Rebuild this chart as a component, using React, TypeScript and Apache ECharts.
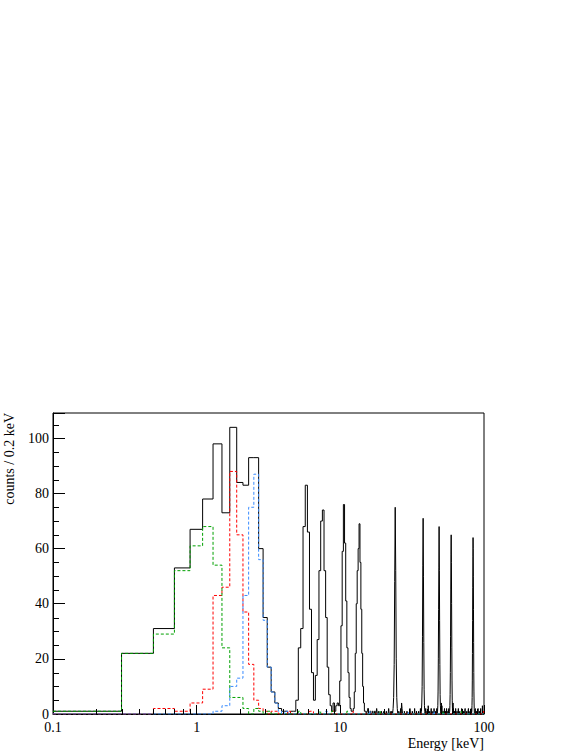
import React, { useEffect, useRef } from "react";
import * as echarts from "echarts";

// Histogram binning: 0.2 keV bins starting at 0.1 keV
const BIN_WIDTH = 0.2;
const N_BINS = 500;

// Total spectrum (black), dense part: bin centres 0.2, 0.4, ... 14.8 keV
const totalLow = [
  1, 22, 31, 53, 67, 78, 98, 73, 104, 84,
  83, 93, 93, 60, 35, 17, 8, 4, 2, 1,
  1, 0, 1, 1, 5, 24, 31, 68, 83, 66,
  38, 15, 5, 14, 27, 52, 70, 74, 52, 35,
  17, 7, 3, 1, 4, 1, 3, 4, 3, 12,
  32, 59, 76, 62, 41, 24, 15, 6, 2, 1,
  1, 2, 8, 22, 40, 52, 60, 69, 55, 38,
  22, 10, 4, 1,
];

// Total spectrum, high-energy lines: [bin centre keV, counts]
const peak24: [number, number][] = [
  [23.4, 2], [23.6, 6], [23.8, 18], [24.0, 48], [24.2, 75], [24.4, 52], [24.6, 20], [24.8, 6], [25.0, 2],
];
const peak38: [number, number][] = [
  [36.8, 1], [37.0, 4], [37.2, 10], [37.4, 28], [37.6, 54], [37.8, 71], [38.0, 50], [38.2, 26], [38.4, 9], [38.6, 3], [38.8, 1],
];
const peak49: [number, number][] = [
  [47.6, 1], [47.8, 3], [48.0, 8], [48.2, 20], [48.4, 38], [48.6, 53], [48.8, 68], [49.0, 52], [49.2, 34], [49.4, 18], [49.6, 7], [49.8, 3], [50.0, 1],
];
const peak59: [number, number][] = [
  [57.8, 1], [58.0, 3], [58.2, 7], [58.4, 15], [58.6, 28], [58.8, 45], [59.0, 58], [59.2, 65], [59.4, 55], [59.6, 40], [59.8, 24], [60.0, 12], [60.2, 5], [60.4, 2],
];
const peak84: [number, number][] = [
  [82.4, 1], [82.6, 3], [82.8, 6], [83.0, 12], [83.2, 22], [83.4, 34], [83.6, 46], [83.8, 57], [84.0, 64], [84.2, 60], [84.4, 50], [84.6, 38], [84.8, 26], [85.0, 15], [85.2, 8], [85.4, 4], [85.6, 2],
];
// Total spectrum, sparse background counts above 15 keV
const totalBackground: [number, number][] = [
  [15.0, 1], [15.4, 1], [15.6, 2], [16.2, 1], [16.8, 1], [17.4, 1], [18.0, 2], [18.6, 1], [19.4, 1], [20.2, 1],
  [21.0, 1], [21.8, 2], [22.6, 1], [23.0, 1], [25.6, 1], [26.4, 2], [26.8, 4], [27.0, 2], [28.0, 1], [29.2, 1],
  [30.6, 2], [31.8, 1], [33.0, 2], [34.0, 1], [35.2, 1], [36.2, 2], [39.4, 2], [40.2, 1], [41.0, 3], [42.0, 1],
  [43.0, 2], [44.2, 1], [45.0, 2], [46.2, 1], [47.0, 2], [50.6, 4], [51.0, 3], [52.0, 1], [53.2, 2], [54.0, 1],
  [55.0, 2], [56.2, 1], [57.0, 2], [61.0, 4], [61.4, 2], [62.4, 1], [63.6, 2], [65.0, 1], [66.4, 2], [68.0, 1],
  [70.0, 2], [72.0, 1], [74.0, 2], [76.0, 1], [78.0, 2], [80.0, 1], [81.6, 2], [87.0, 2], [89.0, 1], [91.0, 2],
  [93.0, 1], [95.0, 2], [97.6, 3], [99.0, 1],
];

// Component spectra (dashed): [bin centre keV, counts]
const redComp: [number, number][] = [
  [0.6, 2], [0.8, 1], [1.0, 4], [1.2, 9], [1.4, 43], [1.6, 46], [1.8, 88], [2.0, 65], [2.2, 37], [2.4, 18],
  [2.6, 5], [2.8, 2], [3.0, 1], [3.4, 1], [3.6, 1], [4.4, 1], [6.2, 1], [6.4, 1], [9.0, 1], [12.2, 1], [99.4, 1],
];
const greenComp: [number, number][] = [
  [0.2, 1], [0.4, 22], [0.6, 29], [0.8, 52], [1.0, 61], [1.2, 68], [1.4, 54], [1.6, 24], [1.8, 6], [2.0, 6],
  [2.2, 2], [2.6, 2], [2.8, 1], [3.2, 1], [5.2, 1], [7.2, 1], [8.8, 1], [11.2, 1], [19.0, 1], [52.0, 1], [70.0, 1],
];
const blueComp: [number, number][] = [
  [1.4, 1], [1.6, 3], [1.8, 10], [2.0, 13], [2.2, 43], [2.4, 75], [2.6, 87], [2.8, 56], [3.0, 34], [3.2, 17],
  [3.4, 8], [3.6, 4], [3.8, 1], [4.2, 1], [8.0, 1], [16.0, 1], [30.0, 1], [45.0, 1],
];

const xMajorLabels = [0.1, 1, 10, 100];
const xMinorTicks = [
  0.2, 0.3, 0.4, 0.5, 0.6, 0.7, 0.8, 0.9,
  2, 3, 4, 5, 6, 7, 8, 9,
  20, 30, 40, 50, 60, 70, 80, 90,
];
const yMinorTicks = [5, 10, 15, 25, 30, 35, 45, 50, 55, 65, 70, 75, 85, 90, 95, 105];

function buildCounts(dense: number[], sparse: [number, number][]): number[] {
  const c: number[] = new Array(N_BINS).fill(0);
  dense.forEach((v, i) => (c[i] = v));
  sparse.forEach(([e, v]) => {
    const k = Math.round(e / BIN_WIDTH) - 1;
    if (k >= 0 && k < N_BINS) c[k] = v;
  });
  return c;
}

function toStepPoints(counts: number[]): [number, number][] {
  const pts: [number, number][] = [];
  for (let k = 0; k < counts.length; k++) {
    pts.push([(1 + 2 * k) / 10, counts[k]]);
  }
  pts.push([(1 + 2 * counts.length) / 10, counts[counts.length - 1]]);
  return pts;
}

const FONT = "Liberation Serif";

export default function App() {
  const ref = useRef<HTMLDivElement>(null);
  useEffect(() => {
    if (!ref.current) return;
    const chart = echarts.init(ref.current, undefined, { renderer: "svg" });

    const total = buildCounts(totalLow, [
      ...peak24, ...peak38, ...peak49, ...peak59, ...peak84, ...totalBackground,
    ]);
    const red = buildCounts([], redComp);
    const green = buildCounts([], greenComp);
    const blue = buildCounts([], blueComp);

    const histSeries = (name: string, counts: number[], color: string, dashed: boolean) => ({
      name,
      type: "line",
      step: "end",
      data: toStepPoints(counts),
      showSymbol: false,
      symbol: "none",
      silent: true,
      lineStyle: { color, width: 1, type: dashed ? [3, 2] : "solid" },
    });

    chart.setOption({
      animation: false,
      grid: {
        left: 53, right: 97, top: 413, bottom: 38,
        show: true, borderColor: "#000", borderWidth: 1, backgroundColor: "transparent",
      },
      xAxis: {
        type: "log",
        logBase: 10,
        min: 0.1,
        max: 100,
        axisLine: { show: true, lineStyle: { color: "#000", width: 1 } },
        axisTick: { show: true, inside: true, length: 9, lineStyle: { color: "#000" } },
        splitLine: { show: false },
        axisLabel: {
          show: true,
          margin: 6,
          color: "#000",
          fontFamily: FONT,
          fontSize: 14,
          showMinLabel: true,
          showMaxLabel: true,
          formatter: (v: number) => {
            const r = Math.round(v * 10) / 10;
            return xMajorLabels.some((m) => Math.abs(m - r) < 1e-9) ? String(r) : "";
          },
        },
      },
      yAxis: {
        type: "value",
        min: 0,
        max: 109.2,
        interval: 20,
        axisLine: { show: true, lineStyle: { color: "#000", width: 1 } },
        axisTick: { show: true, inside: true, length: 12, lineStyle: { color: "#000" } },
        splitLine: { show: false },
        axisLabel: {
          margin: 4,
          color: "#000",
          fontFamily: FONT,
          fontSize: 14,
          formatter: (v: number) => (v % 20 === 0 && v <= 100 ? String(v) : ""),
        },
      },
      graphic: [
        {
          type: "text",
          x: 9,
          y: 413,
          rotation: Math.PI / 2,
          style: {
            text: "counts / 0.2 keV",
            fontFamily: FONT,
            fontSize: 14,
            fill: "#000",
            align: "right",
            verticalAlign: "middle",
          },
        },
        {
          type: "text",
          x: 484,
          y: 743,
          style: {
            text: "Energy [keV]",
            fontFamily: FONT,
            fontSize: 14,
            fill: "#000",
            align: "right",
            verticalAlign: "middle",
          },
        },
      ],
      series: [
        histSeries("total", total, "#000000", false),
        histSeries("red", red, "#ff0000", true),
        histSeries("green", green, "#00a000", true),
        histSeries("blue", blue, "#3a8cff", true),
        {
          type: "custom",
          coordinateSystem: "cartesian2d",
          silent: true,
          clip: false,
          z: 5,
          data: xMinorTicks.map((v) => [v, 0]),
          renderItem: (_p: any, api: any) => {
            const p = api.coord([api.value(0), 0]);
            const x = Math.round(p[0]) + 0.5;
            return {
              type: "line",
              shape: { x1: x, y1: p[1], x2: x, y2: p[1] - 5 },
              style: { stroke: "#000", lineWidth: 1 },
            };
          },
        },
        {
          type: "custom",
          coordinateSystem: "cartesian2d",
          silent: true,
          clip: false,
          z: 5,
          data: yMinorTicks.map((v) => [0.1, v]),
          renderItem: (_p: any, api: any) => {
            const p = api.coord([api.value(0), api.value(1)]);
            const y = Math.round(p[1]) + 0.5;
            return {
              type: "line",
              shape: { x1: p[0], y1: y, x2: p[0] + 6, y2: y },
              style: { stroke: "#000", lineWidth: 1 },
            };
          },
        },
      ],
    });
    return () => chart.dispose();
  }, []);

  return (
    <div
      ref={ref}
      style={{ position: "absolute", left: 0, top: 0, width: 581, height: 752 }}
    />
  );
}
